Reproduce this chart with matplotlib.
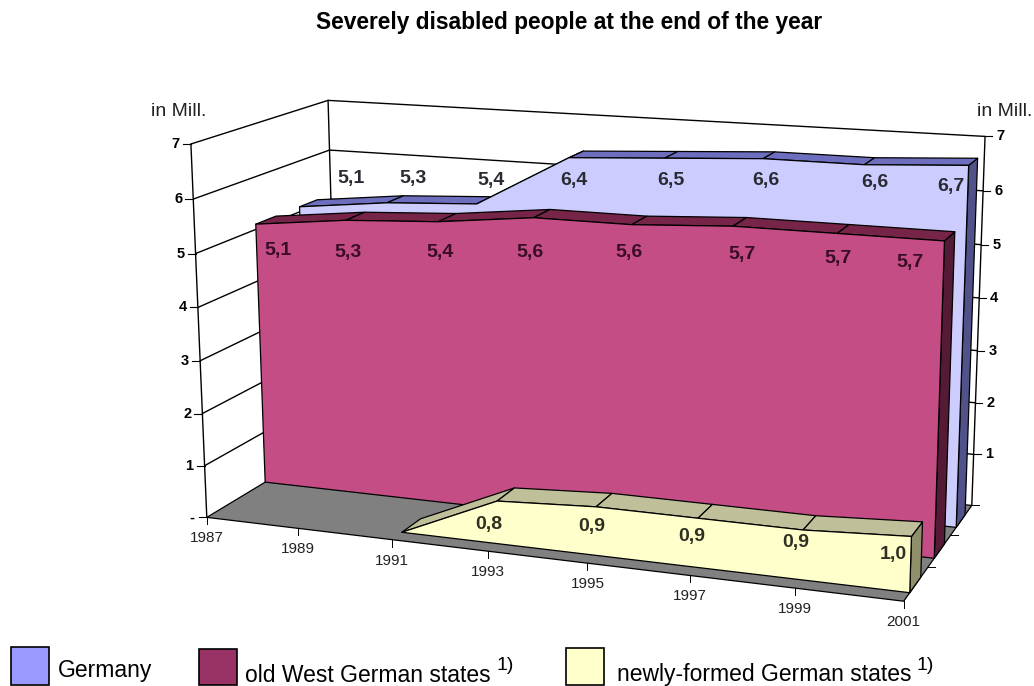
import numpy as np
import matplotlib
matplotlib.use("Agg")
import matplotlib.pyplot as plt
from matplotlib.patches import Polygon, Rectangle

plt.rcParams['font.family'] = ['Liberation Sans', 'DejaVu Sans']

years = [1987, 1989, 1991, 1993, 1995, 1997, 1999, 2001]
germany = [5.1, 5.3, 5.4, 6.4, 6.5, 6.6, 6.6, 6.7]
west = [5.1, 5.3, 5.4, 5.6, 5.6, 5.7, 5.7, 5.7]
east_years = [1991, 1993, 1995, 1997, 1999, 2001]
east = [0.0, 0.8, 0.9, 0.9, 0.9, 1.0]
value_ticks = [1, 2, 3, 4, 5, 6, 7]

# where the printed value labels sit in the picture
germany_label_x = [351, 413, 491, 574, 671, 766, 875, 951]
germany_label_y = [179, 179, 180, 180, 180, 180, 183, 186]
west_label_x = [278, 348, 440, 530, 629, 742, 838, 910]
west_label_y = [250, 252, 252, 252, 253, 254, 259, 262]
east_label_x = [489, 592, 692, 796, 893]
east_label_y = [525, 527, 536, 543, 554]

# calibration of the 3d box: year, value, depth -> pixel
calib = [
    (1987, 0, 0, 207.5, 517), (1989, 0, 0, 298.7, 528), (1991, 0, 0, 391, 539.5),
    (1993, 0, 0, 488, 551), (1995, 0, 0, 588, 563), (1997, 0, 0, 688, 575),
    (1999, 0, 0, 793, 588), (2001, 0, 0, 901.7, 601),
    (1987, 7, 0, 190, 145), (1987, 6, 0, 193, 199), (1987, 5, 0, 195.7, 254),
    (1987, 4, 0, 198, 308), (1987, 7, 1, 329, 99), (1987, 6, 1, 330, 149),
    (1987, 0, 1, 337, 440), (2001, 7, 1, 985.7, 137), (2001, 6, 1, 983, 190.7),
    (2001, 4, 1, 978, 299), (2001, 1, 1, 971, 454), (2001, 0, 1, 969, 505),
    (2001, 0, 1/3, 933, 567), (2001, 0, 2/3, 957, 535),
]


def fit_camera(points):
    # DLT fit of a 3x4 projection
    rows = []
    for yr, v, d, px, py in points:
        X = [(yr - 1987) / 14, v / 7, d, 1]
        u, w = px / 1000, py / 1000
        rows.append(X + [0, 0, 0, 0] + [-u * c for c in X])
        rows.append([0, 0, 0, 0] + X + [-w * c for c in X])
    _, _, vt = np.linalg.svd(np.array(rows))
    return vt[-1].reshape(3, 4)


P = fit_camera(calib)


def project(yr, v, d):
    h = P @ np.array([(yr - 1987) / 14, v / 7, d, 1])
    return h[0] / h[2] * 1000, h[1] / h[2] * 1000


def face(ax, pts, color, lw=0.9, z=1):
    ax.add_patch(Polygon([project(*p) for p in pts], closed=True, facecolor=color,
                         edgecolor='black', linewidth=lw, zorder=z, joinstyle='round'))


def seg(ax, a, b, lw=0.9, z=1):
    pa, pb = project(*a), project(*b)
    ax.plot([pa[0], pb[0]], [pa[1], pb[1]], color='black', lw=lw, zorder=z,
            solid_capstyle='round')


def draw_band(ax, xs, vals, d0, d1, front, top, side, z):
    outline = [(x, v, d0) for x, v in zip(xs, vals)]
    outline += [(xs[-1], 0, d0), (xs[0], 0, d0)]
    # side at the right end first, then top strips, then the front sheet
    face(ax, [(xs[-1], vals[-1], d0), (xs[-1], vals[-1], d1), (xs[-1], 0, d1), (xs[-1], 0, d0)],
         side, z=z)
    for i in range(len(xs) - 1):
        face(ax, [(xs[i], vals[i], d0), (xs[i + 1], vals[i + 1], d0),
                  (xs[i + 1], vals[i + 1], d1), (xs[i], vals[i], d1)], top, z=z)
    face(ax, outline, front, z=z)


def main():
    fig = plt.figure(figsize=(10.34, 6.86), dpi=100)
    ax = fig.add_axes([0, 0, 1, 1])
    ax.set_xlim(0, 1034)
    ax.set_ylim(686, 0)
    ax.axis('off')

    fig.text(569 / 1034, 1 - 23 / 686, "Severely disabled people at the end of the year",
             ha='center', va='center', fontsize=16.4, fontweight='bold')

    # walls and floor
    x0, x1 = years[0], years[-1]
    seg(ax, (x0, 0, 0), (x0, 7, 0), lw=1.0)
    seg(ax, (x0, 0, 1), (x0, 7, 1), lw=1.0)
    seg(ax, (x1, 0, 1), (x1, 7, 1), lw=1.0)
    for v in value_ticks:
        seg(ax, (x0, v, 0), (x0, v, 1), lw=1.0)
        seg(ax, (x0, v, 1), (x1, v, 1), lw=1.0)
    face(ax, [(x0, 0, 0), (x1, 0, 0), (x1, 0, 1), (x0, 0, 1)], '#808080', z=2)

    # ticks and axis labels
    for v in value_ticks:
        px, py = project(x0, v, 0)
        ax.plot([px - 8, px], [py, py], color='black', lw=0.8, zorder=2)
        ax.text(px - 15, py, str(v), ha='center', va='center', fontsize=10.5, fontweight='bold')
        px, py = project(x1, v, 1)
        ax.plot([px, px + 7], [py, py], color='black', lw=0.8, zorder=2)
        ax.text(px + 15, py, str(v), ha='center', va='center', fontsize=10.5, fontweight='bold')
    px, py = project(x0, 0, 0)
    ax.plot([px - 8, px], [py, py], color='black', lw=0.8, zorder=2)
    ax.text(px - 15, py, "-", ha='center', va='center', fontsize=10.5, fontweight='bold')
    for yr in years:
        px, py = project(yr, 0, 0)
        ax.plot([px, px], [py, py + 7], color='black', lw=0.7, zorder=2)
        ax.text(px, py + 21, str(yr), ha='center', va='center', fontsize=11, color='#222222')
    for d in [1/3, 2/3, 1]:
        px, py = project(x1, 0, d)
        ax.plot([px, px + 7], [py, py], color='black', lw=0.7, zorder=2)
    ax.text(151, 112, "in Mill.", ha='left', va='center', fontsize=14, color='#222222')
    ax.text(977, 112, "in Mill.", ha='left', va='center', fontsize=14, color='#222222')

    # series, back to front
    draw_band(ax, years, germany, 0.75, 0.89, '#CCCCFF', '#6E6EBE', '#52528A', z=3)
    draw_band(ax, years, west, 0.42, 0.57, '#C44D85', '#762448', '#541A36', z=4)
    draw_band(ax, east_years, east, 0.08, 0.23, '#FFFFCC', '#BFBF99', '#8F8F6B', z=5)

    # value labels
    for x, y, v in zip(germany_label_x, germany_label_y, germany):
        ax.text(x, y, f"{v:.1f}".replace('.', ','), ha='center', va='center', fontsize=14,
                fontweight='bold', color='#2a2a33', zorder=6)
    for x, y, v in zip(west_label_x, west_label_y, west):
        ax.text(x, y, f"{v:.1f}".replace('.', ','), ha='center', va='center', fontsize=14,
                fontweight='bold', color='#3a0c26', zorder=6)
    for x, y, v in zip(east_label_x, east_label_y, east[1:]):
        ax.text(x, y, f"{v:.1f}".replace('.', ','), ha='center', va='center', fontsize=14,
                fontweight='bold', color='#2f2f22', zorder=6)

    # legend
    ax.add_patch(Rectangle((11, 647), 38, 38, facecolor='#9999FF', edgecolor='black', lw=1.2))
    ax.add_patch(Rectangle((199, 649), 38, 36, facecolor='#993366', edgecolor='black', lw=1.2))
    ax.add_patch(Rectangle((566, 648), 38, 37, facecolor='#FFFFCC', edgecolor='black', lw=1.2))
    ax.text(58, 670, "Germany", ha='left', va='center', fontsize=16.5)
    ax.text(245, 675, "old West German states", ha='left', va='center', fontsize=16.5)
    ax.text(496, 665, "1)", ha='left', va='center', fontsize=14)
    ax.text(617, 675, "newly-formed German states", ha='left', va='center', fontsize=16.5)
    ax.text(916, 665, "1)", ha='left', va='center', fontsize=14)

    fig.savefig("out.png", dpi=100)


if __name__ == "__main__":
    main()
